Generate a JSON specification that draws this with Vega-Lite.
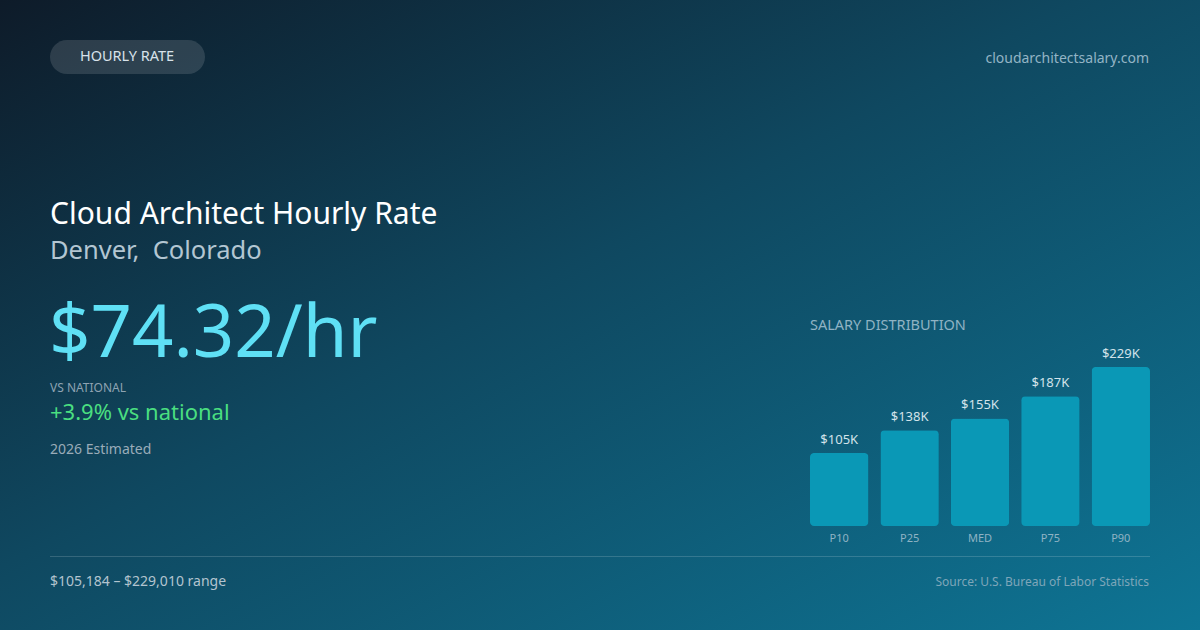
{
  "$schema": "https://vega.github.io/schema/vega-lite/v6.json",
  "width": 1200,
  "height": 630,
  "autosize": {"type": "none"},
  "padding": 0,
  "background": "#0f3a50",
  "config": {"view": {"stroke": null}, "text": {"font": "Noto Sans"}},
  "layer": [
    {
      "data": {"values": [{}]},
      "mark": {
        "type": "rect", "x": 0, "x2": 1200, "y": 0, "y2": 630,
        "fill": {
          "gradient": "linear", "x1": 0, "y1": 0, "x2": 1, "y2": 1,
          "stops": [
            {"offset": 0, "color": "#0e1b29"},
            {"offset": 0.45, "color": "#0f4860"},
            {"offset": 1, "color": "#0e7595"}
          ]
        }
      },
      "encoding": {}
    },
    {
      "data": {"values": [{}]},
      "mark": {"type": "rect", "x": 50, "x2": 205, "y": 40, "y2": 74, "cornerRadius": 17, "fill": "#ffffff", "fillOpacity": 0.13},
      "encoding": {}
    },
    {
      "data": {"values": [{"t": "HOURLY RATE"}]},
      "mark": {"type": "text", "x": 127, "y": 57, "align": "center", "baseline": "middle", "fontSize": 14.5, "fontWeight": "normal", "color": "#d8e2ea"},
      "encoding": {"text": {"field": "t"}}
    },
    {
      "data": {"values": [{"t": "cloudarchitectsalary.com"}]},
      "mark": {"type": "text", "x": 1149, "y": 63, "align": "right", "baseline": "alphabetic", "fontSize": 14, "color": "#93b4c5"},
      "encoding": {"text": {"field": "t"}}
    },
    {
      "data": {"values": [{"t": "Cloud Architect Hourly Rate"}]},
      "mark": {"type": "text", "x": 50, "y": 224, "align": "left", "baseline": "alphabetic", "fontSize": 30, "color": "#ffffff"},
      "encoding": {"text": {"field": "t"}}
    },
    {
      "data": {"values": [{"t": "Denver,\u00a0 Colorado"}]},
      "mark": {"type": "text", "x": 50, "y": 259, "align": "left", "baseline": "alphabetic", "fontSize": 25.5, "color": "#b3c6d2"},
      "encoding": {"text": {"field": "t"}}
    },
    {
      "data": {"values": [{"t": "$74.32/hr"}]},
      "mark": {"type": "text", "x": 49, "y": 357, "align": "left", "baseline": "alphabetic", "fontSize": 72.5, "color": "#5fe0f5"},
      "encoding": {"text": {"field": "t"}}
    },
    {
      "data": {"values": [{"t": "VS NATIONAL"}]},
      "mark": {"type": "text", "x": 50, "y": 392, "align": "left", "baseline": "alphabetic", "fontSize": 12, "color": "#8ea3b2"},
      "encoding": {"text": {"field": "t"}}
    },
    {
      "data": {"values": [{"t": "+3.9% vs national"}]},
      "mark": {"type": "text", "x": 50, "y": 420, "align": "left", "baseline": "alphabetic", "fontSize": 22, "color": "#4ade80"},
      "encoding": {"text": {"field": "t"}}
    },
    {
      "data": {"values": [{"t": "2026 Estimated"}]},
      "mark": {"type": "text", "x": 50, "y": 454, "align": "left", "baseline": "alphabetic", "fontSize": 14, "color": "#9aacb9"},
      "encoding": {"text": {"field": "t"}}
    },
    {
      "data": {"values": [{"t": "SALARY DISTRIBUTION"}]},
      "mark": {"type": "text", "x": 810, "y": 330, "align": "left", "baseline": "alphabetic", "fontSize": 14.5, "color": "#8fb3c4"},
      "encoding": {"text": {"field": "t"}}
    },
    {
      "data": {"values": [{}]},
      "mark": {"type": "rect", "stroke": null, "fill": "#ffffff", "fillOpacity": 0.16},
      "encoding": {"x": {"value": 50}, "x2": {"value": 1150}, "y": {"value": 556}, "y2": {"value": 557}}
    },
    {
      "data": {"values": [{"t": "$105,184 – $229,010 range"}]},
      "mark": {"type": "text", "x": 50, "y": 586, "align": "left", "baseline": "alphabetic", "fontSize": 14, "color": "#b3c4cf"},
      "encoding": {"text": {"field": "t"}}
    },
    {
      "data": {"values": [{"t": "Source: U.S. Bureau of Labor Statistics"}]},
      "mark": {"type": "text", "x": 1149, "y": 586, "align": "right", "baseline": "alphabetic", "fontSize": 12, "color": "#7ea6b9"},
      "encoding": {"text": {"field": "t"}}
    },
    {
      "data": {
        "values": [
          {"pct": "P10", "salary": 105184, "label": "$105K"},
          {"pct": "P25", "salary": 138000, "label": "$138K"},
          {"pct": "MED", "salary": 155000, "label": "$155K"},
          {"pct": "P75", "salary": 187000, "label": "$187K"},
          {"pct": "P90", "salary": 229010, "label": "$229K"}
        ]
      },
      "encoding": {
        "x": {
          "field": "pct", "type": "nominal", "sort": null,
          "scale": {"range": [810, 1150], "paddingInner": 0.17, "paddingOuter": 0},
          "axis": null
        },
        "y": {
          "field": "salary", "type": "quantitative",
          "scale": {"domain": [0, 229010], "range": [526, 367], "nice": false},
          "axis": null
        }
      },
      "layer": [
        {"mark": {"type": "bar", "color": "#0a98b6", "cornerRadius": 4}},
        {
          "mark": {"type": "text", "baseline": "bottom", "dy": -6, "fontSize": 13, "color": "#d3e3ea"},
          "encoding": {"text": {"field": "label"}}
        },
        {
          "mark": {"type": "text", "baseline": "top", "dy": 7, "fontSize": 11, "color": "#8fb3c4"},
          "encoding": {"y": {"datum": 0}, "text": {"field": "pct"}}
        }
      ]
    }
  ]
}
